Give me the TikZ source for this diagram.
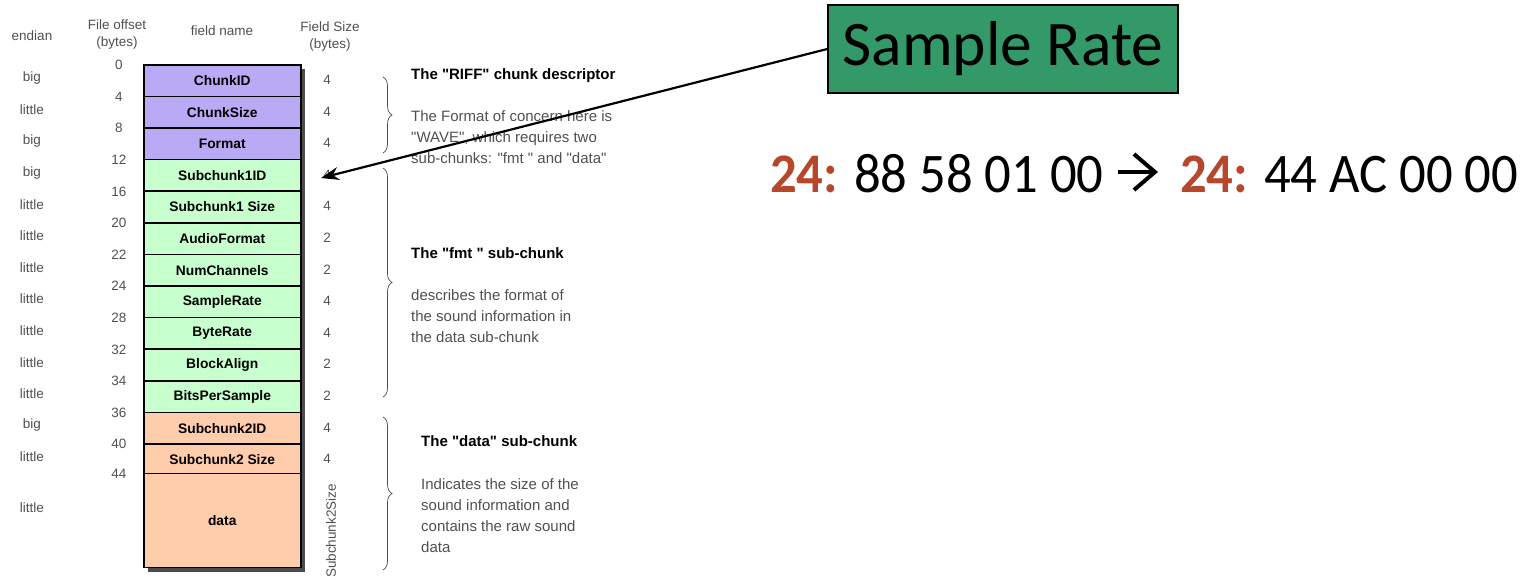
\documentclass[tikz,border=0pt]{standalone}
\usepackage{fontspec}
\setmainfont{Liberation Sans}[Ligatures=TeXOff]
\newfontfamily\calibri{Carlito}
\usetikzlibrary{decorations.pathreplacing,arrows.meta}
\definecolor{riff}{RGB}{186,170,245}
\definecolor{fmtc}{RGB}{200,255,206}
\definecolor{datac}{RGB}{255,204,172}
\definecolor{srgreen}{RGB}{52,153,104}
\definecolor{rust}{RGB}{183,71,42}
\definecolor{txtgray}{RGB}{80,80,80}
\newcommand\dq{"}
\begin{document}
\begin{tikzpicture}[x=1pt,y=-1pt,
  cell/.style={draw=black,line width=1.5pt,minimum width=157pt,anchor=north west,inner sep=0pt,
    font=\fontsize{13.8}{16}\selectfont\bfseries},
  small/.style={text=txtgray,inner sep=0pt,font=\fontsize{13.5}{16}\selectfont},
  head/.style={anchor=base west,inner sep=0pt,font=\fontsize{15}{18}\selectfont\bfseries},
  body/.style={anchor=base west,inner sep=0pt,text=txtgray,font=\fontsize{15}{18}\selectfont},
  bracestyle/.style={draw=txtgray,line width=0.7pt,decorate,decoration={brace,amplitude=9pt}},
  big/.style={anchor=west,inner sep=0pt,font=\calibri\fontsize{52.7}{60}\selectfont}]
\useasboundingbox (0,0) rectangle (1522,579);
% headers
\node[small] at (32,36) {endian};
\node[small] at (117,25) {File offset};
\node[small] at (117,43) {(bytes)};
\node[small] at (222,31) {field name};
\node[small] at (330,27) {Field Size};
\node[small] at (330,45) {(bytes)};
% shadow
\fill[black!70] (148,69) rectangle (305,572);
% rows
\foreach \i/\lab/\col/\en/\off/\sz in {
  0/ChunkID/riff/big/0/4,
  1/ChunkSize/riff/little/4/4,
  2/Format/riff/big/8/4,
  3/Subchunk1ID/fmtc/big/12/4,
  4/Subchunk1 Size/fmtc/little/16/4,
  5/AudioFormat/fmtc/little/20/2,
  6/NumChannels/fmtc/little/22/2,
  7/SampleRate/fmtc/little/24/4,
  8/ByteRate/fmtc/little/28/4,
  9/BlockAlign/fmtc/little/32/2,
  10/BitsPerSample/fmtc/little/34/2,
  11/Subchunk2ID/datac/big/36/4,
  12/Subchunk2 Size/datac/little/40/4}{
  \node[cell,fill=\col,minimum height=31.6pt] (r\i) at (143,64+\i*31.6) {\lab};
  \node[small] (e\i) at (32,62+\i*31.6+15.8) {\en};
  \node[small] (o\i) at (119,65+\i*31.6) {\off};
  \node[small] (s\i) at (327,64+\i*31.6+15.8) {\sz};
}
\node[cell,fill=datac,minimum height=94pt] (r13) at (143,472.8) {data};
\node[small] (e13) at (32,508) {little};
\node[small] (o13) at (119,473.8) {44};
\node[small,rotate=90] (s13) at (331,531) {Subchunk2Size};
% braces
\draw[bracestyle] (383,77) -- (383,153);
\draw[bracestyle] (383,168) -- (383,397);
\draw[bracestyle] (383,417) -- (383,570);
% descriptions
\node[head] (h1) at (411,79) {The \dq RIFF\dq{} chunk descriptor};
\node[body] (b11) at (411,121) {The Format of concern here is};
\node[body] (b12) at (411,142) {\dq WAVE\dq, which requires two};
\node[body] (b13) at (411,163) {sub-chunks: \dq fmt \dq{} and \dq data\dq};
\node[head] (h2) at (411,258) {The \dq fmt \dq{} sub-chunk};
\node[body] (b21) at (411,300) {describes the format of};
\node[body] (b22) at (411,321) {the sound information in};
\node[body] (b23) at (411,342) {the data sub-chunk};
\node[head] (h3) at (421,446) {The \dq data\dq{} sub-chunk};
\node[body] (b31) at (421,489) {Indicates the size of the};
\node[body] (b32) at (421,510) {sound information and};
\node[body] (b33) at (421,531) {contains the raw sound};
\node[body] (b34) at (421,552) {data};
% sample rate callout
\node[draw=black,line width=1.5pt,fill=srgreen,minimum width=350pt,minimum height=88pt,inner sep=0pt,
  font=\calibri\fontsize{63.5}{70}\selectfont] (sr) at (1003,49) {Sample Rate};
\coordinate (tgt) at (321,178);
\draw[line width=2.2pt,-{Stealth[length=18pt,width=13pt]}] (sr.west) -- (tgt);
% byte change
\node[big] (old) at (770,174) {\scalebox{1}[1.06]{\textcolor{rust}{\bfseries 24:} 88 58 01 00}};
\node[big] (new) at (1180,174) {\scalebox{1}[1.06]{\textcolor{rust}{\bfseries 24:} 44 AC 00 00}};
\coordinate (arrS) at (1118,172);
\coordinate (arrE) at (1158,172);
\draw[line width=4pt,-{Straight Barb[length=21pt,width=36pt,line width=4pt]}] (arrS) -- (arrE);
\end{tikzpicture}
\end{document}
